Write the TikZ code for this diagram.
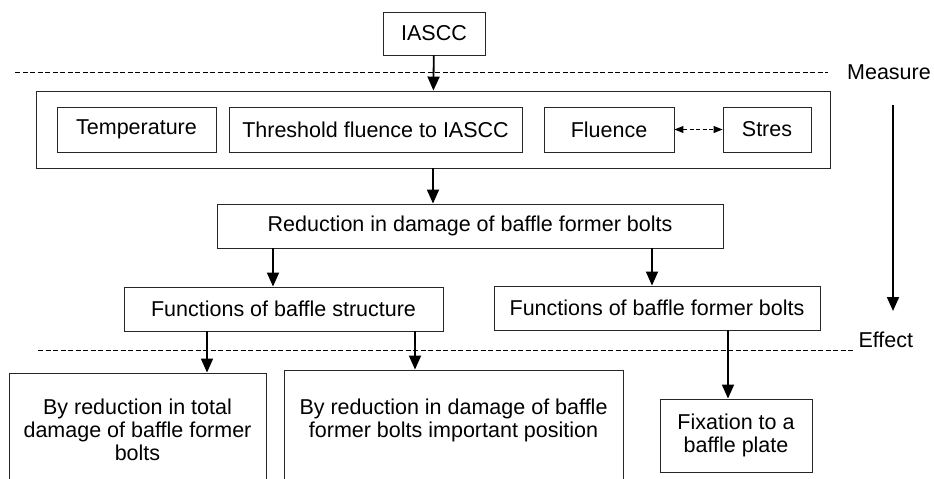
\documentclass[tikz,border=0pt]{standalone}
\usepackage{fontspec}
\setmainfont{Liberation Sans}
\usetikzlibrary{arrows.meta}

\begin{document}
\begin{tikzpicture}[x=1pt, y=-1pt,
        font=\fontsize{21.5}{23}\selectfont,
        box/.style={draw=black!85, line width=0.9pt, inner sep=0pt},
        arr/.style={line width=1.8pt, -{Triangle[length=14pt, width=12pt]}},
        sep/.style={line width=0.8pt, dash pattern=on 5pt off 2.5pt}]
        \useasboundingbox (0,0) rectangle (934,479);
        \clip (0,0) rectangle (934,479);

        % Draw source box
        \node[box, minimum width=102, minimum height=43] (iascc) at (434,33.5) {IASCC};

        % Draw boundary lines
        \coordinate (m1) at (15,72);
        \coordinate (m2) at (828,72);
        \draw[sep] (m1) -- (m2);
        \node[anchor=east, inner sep=1pt] (measure) at (932,72) {Measure};
        \coordinate (e1) at (38,350);
        \coordinate (e2) at (853,350);
        \draw[sep] (e1) -- (e2);
        \node[anchor=west] (effect) at (855,340) {Effect};

        % Draw parameter group
        \node[box, minimum width=794, minimum height=77] (params) at (433,129.5) {};
        \node[box, minimum width=159, minimum height=45] (temp) at (136.5,129.5) {Temperature};
        \node[box, minimum width=293, minimum height=45] (thresh) at (375.5,129.5) {Threshold fluence to IASCC};
        \node[box, minimum width=130, minimum height=45] (flu) at (609,129.5) {Fluence};
        \node[box, minimum width=88, minimum height=45] (stres) at (767,129.5) {Stres};
        \draw[line width=1pt, dash pattern=on 4pt off 2.5pt,
              {Triangle[length=9pt, width=7pt]}-{Triangle[length=9pt, width=7pt]}]
              (flu) -- (stres);

        % Draw middle boxes
        \node[box, minimum width=506, minimum height=44] (reduce) at (470,226) {Reduction in damage of baffle former bolts};
        \node[box, minimum width=319, minimum height=44] (fstruct) at (283.5,309) {Functions of baffle structure};
        \node[box, minimum width=326, minimum height=44] (fbolts) at (657,308) {Functions of baffle former bolts};

        % Draw effect boxes
        \node[box, minimum width=257, minimum height=127] (totalbox) at (137.5,436.5) {};
        \node[anchor=north, align=center] (total) at (137.5,395)
              {By reduction in total\\damage of baffle former\\bolts};
        \node[box, minimum width=339, minimum height=130] (impbox) at (453.5,435) {};
        \node[anchor=north, align=center] (imp) at (453.5,395)
              {By reduction in damage of baffle\\former bolts important position};
        \node[box, minimum width=152, minimum height=73, align=center] (fix) at (736,435.5)
              {Fixation to a\\baffle plate};

        % Draw arrows
        \draw[arr] (iascc) -- (params);
        \draw[arr] (params.south) -- (params.south |- reduce.north);
        \draw[arr] ([xshift=-10.5pt]fstruct.north |- reduce.south) -- ([xshift=-10.5pt]fstruct.north);
        \draw[arr] ([xshift=-5pt]fbolts.north |- reduce.south) -- ([xshift=-5pt]fbolts.north);
        \draw[arr] ([xshift=-76.5pt]fstruct.south) -- ([xshift=-76.5pt]fstruct.south |- totalbox.north);
        \draw[arr] ([xshift=131.5pt]fstruct.south) -- ([xshift=131.5pt]fstruct.south |- impbox.north);
        \draw[arr] ([xshift=71pt]fbolts.south) -- ([xshift=71pt]fbolts.south |- fix.north);

        % Draw measure-to-effect arrow
        \coordinate (top) at (893,105);
        \coordinate (bot) at (893,311);
        \draw[arr] (top) -- (bot);
\end{tikzpicture}
\end{document}
